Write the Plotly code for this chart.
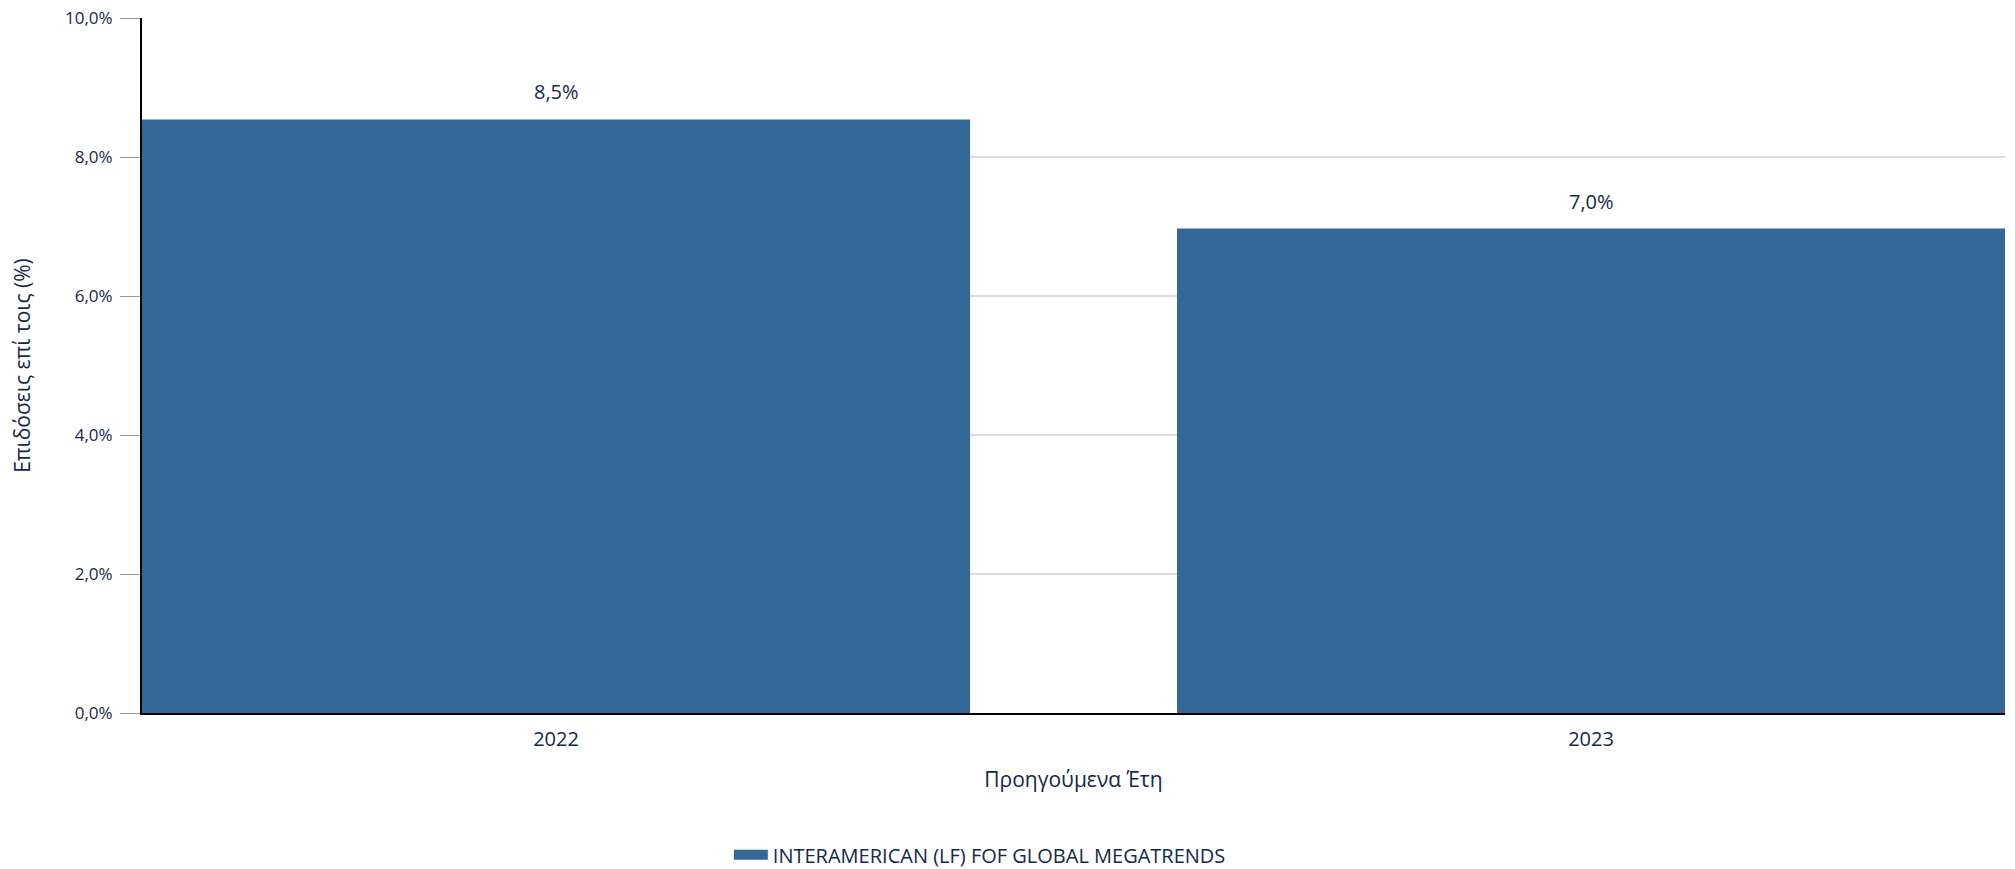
import plotly.graph_objects as go

years = ["2022", "2023"]
returns = [8.54, 6.97]
series_name = "INTERAMERICAN (LF) FOF GLOBAL MEGATRENDS"
y_ticks = [0, 2, 4, 6, 8, 10]
y_tick_labels = ["0,0%", "2,0%", "4,0%", "6,0%", "8,0%", "10,0%"]

navy = "#14284b"
bar_color = "#336899"
font_family = "'Open Sans', sans-serif"

fig = go.Figure()
fig.add_trace(go.Bar(
    x=years, y=returns, name=series_name,
    marker=dict(color=bar_color, line=dict(width=0)),
    showlegend=False,
))
# legend entry drawn as a wide rectangle swatch
fig.add_trace(go.Scatter(
    x=[None], y=[None], mode="lines", name=series_name,
    line=dict(color=bar_color, width=17), showlegend=True, hoverinfo="skip",
))

for i, v in enumerate(returns):
    fig.add_annotation(
        x=i, y=v, xref="x", yref="y",
        text=f"{v:.1f}%".replace(".", ","),
        showarrow=False, yanchor="bottom", yshift=12,
        font=dict(size=20, color=navy, family=font_family),
    )

fig.update_layout(
    width=2015, height=869,
    margin=dict(l=142, r=10, t=18, b=156, autoexpand=False),
    paper_bgcolor="white", plot_bgcolor="white",
    bargap=0.2,
    font=dict(family=font_family, size=18, color=navy),
    xaxis=dict(
        type="category", range=[-0.4, 1.4], automargin=False,
        showline=True, linecolor="black", linewidth=2,
        ticks="", showgrid=False, ticklabelstandoff=7,
        title=dict(text="Προηγούμενα Έτη", font=dict(size=21, color=navy), standoff=21),
        tickfont=dict(size=20, color=navy),
    ),
    yaxis=dict(
        range=[0, 10], tickvals=y_ticks, ticktext=y_tick_labels, automargin=False,
        showline=True, linecolor="black", linewidth=2,
        ticks="outside", ticklen=20, tickcolor="#999999", tickwidth=1,
        showgrid=True, gridcolor="#dddddd", gridwidth=2,
        zeroline=False,
        title=dict(text="Επιδόσεις επί τοις (%)", font=dict(size=21, color=navy), standoff=29),
        tickfont=dict(size=17, color=navy),
        ticklabelstandoff=4,
    ),
    legend=dict(
        orientation="h", x=0.315, xanchor="left", y=-0.204, yanchor="middle",
        font=dict(size=20, color=navy), itemwidth=34,
    ),
)

fig.write_html("out.html", config={"displayModeBar": False},
               post_script="document.body.style.margin='0';")
